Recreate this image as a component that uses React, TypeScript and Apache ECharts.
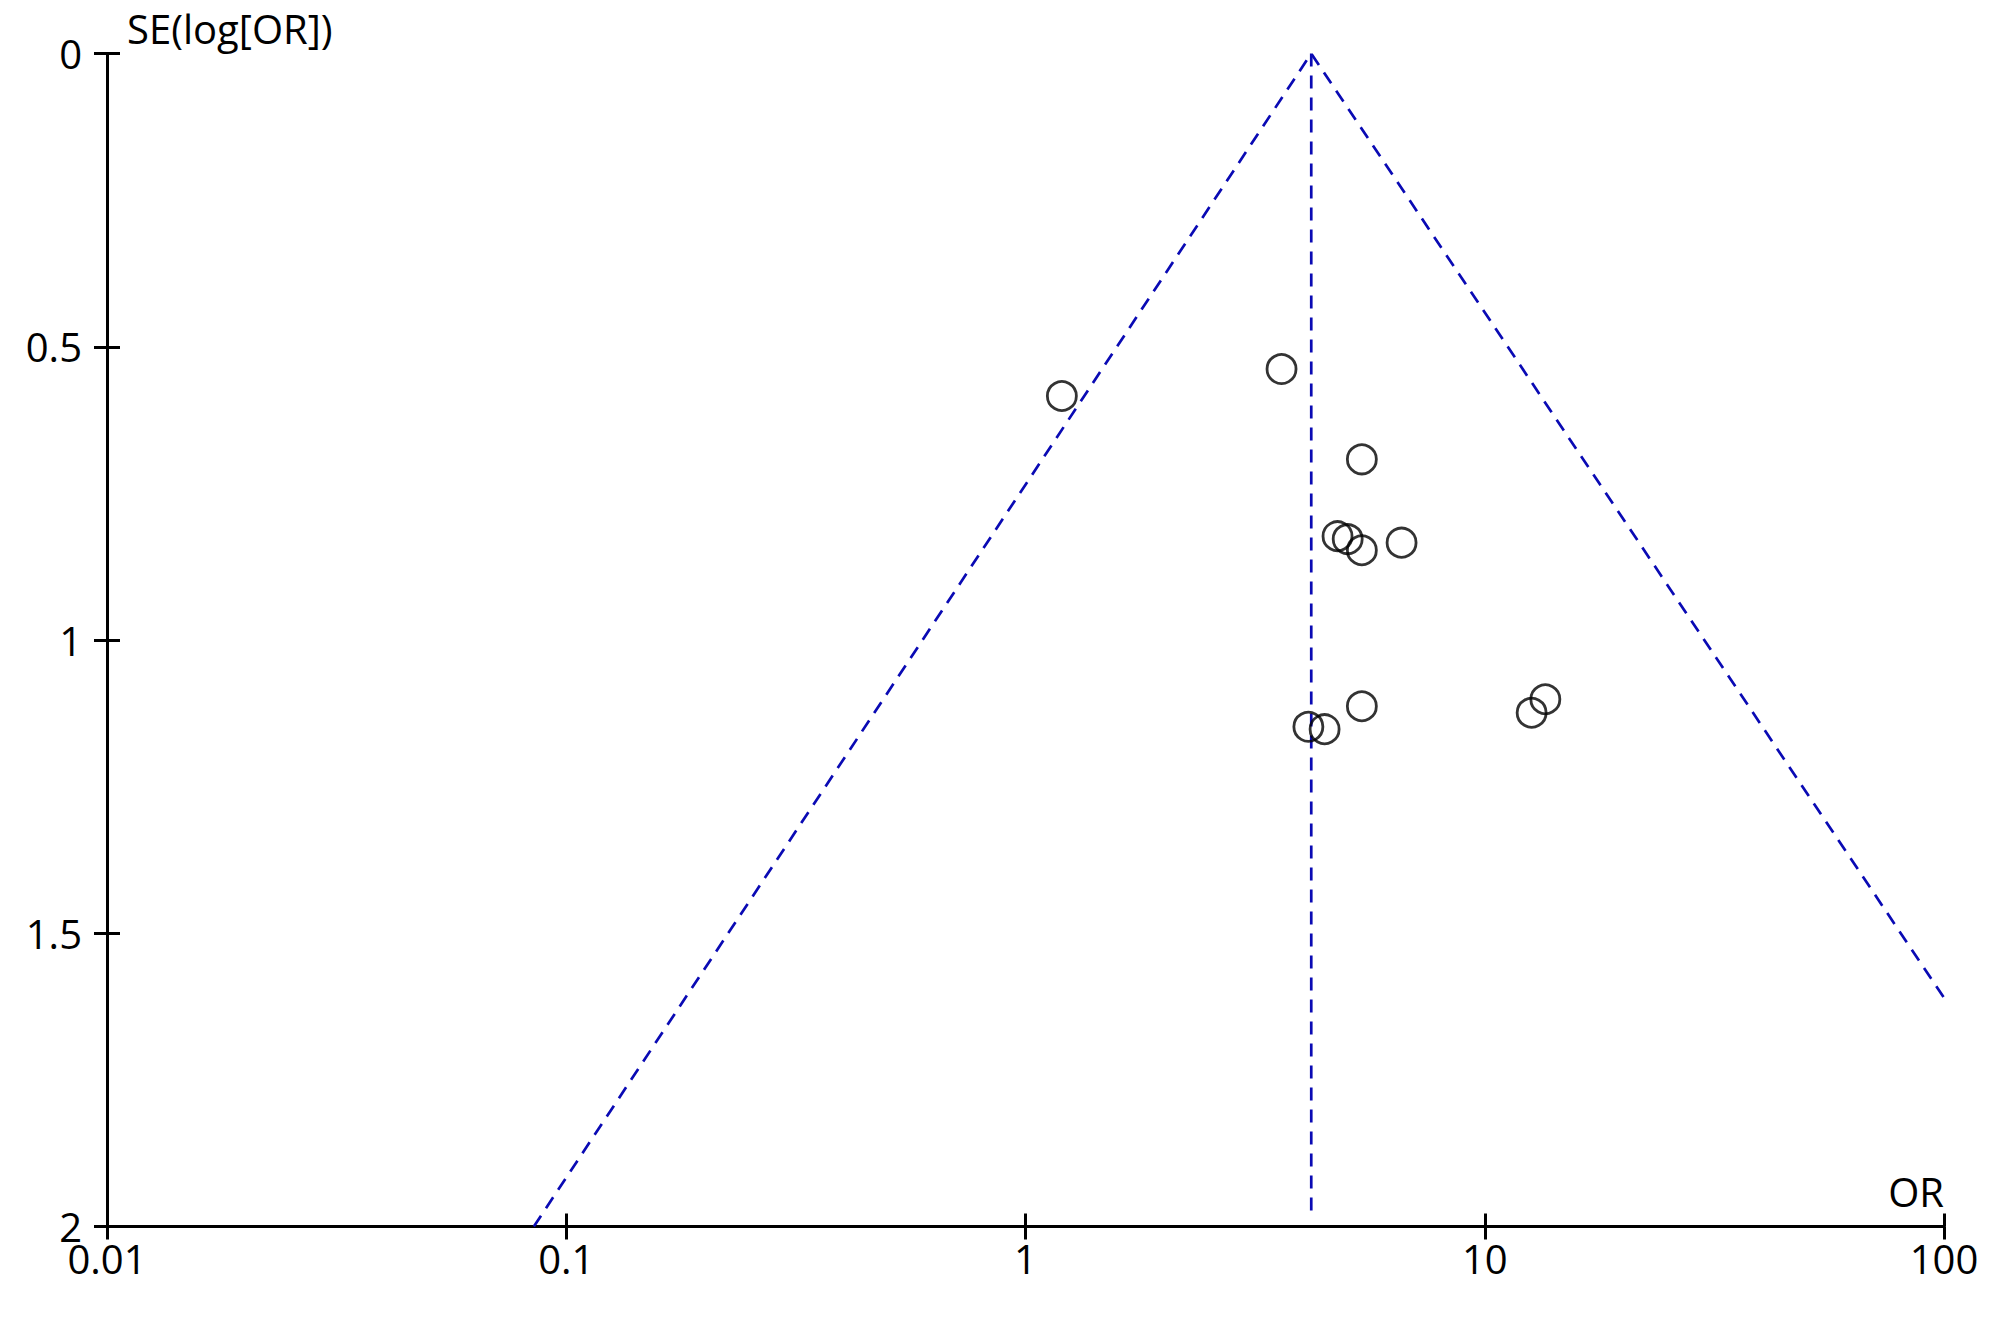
import React, { useEffect, useRef } from "react";
import * as echarts from "echarts";

// Study estimates: odds ratio and SE(log[OR])
const studyOR = [1.2, 3.61, 5.4, 4.78, 5.03, 5.4, 6.59, 5.4, 4.13, 4.48, 12.65, 13.55];
const studySE = [0.584, 0.538, 0.692, 0.823, 0.828, 0.847, 0.834, 1.113, 1.148, 1.152, 1.124, 1.101];

// Pooled estimate and funnel (pseudo 95% CI) line end points
const pooledOR = 4.19;
const funnelOR = [0.085, pooledOR, 100];
const funnelSE = [2, 0, 1.61];
const pooledLineSE = [0, 1.98];

const xTickLabels = ["0.01", "0.1", "1", "10", "100"];
const yTickLabels = ["0", "0.5", "1", "1.5", "2"];

const FONT = "'Open Sans', sans-serif";
const W = 1999;
const H = 1333;
const GRID = { left: 107, right: 55, top: 53.5, bottom: 106.5 };

export default function App() {
  const ref = useRef<HTMLDivElement>(null);
  useEffect(() => {
    document.body.style.margin = "0";
    const chart = echarts.init(ref.current!, null, { renderer: "svg" });
    const gridW = W - GRID.left - GRID.right;
    const gridH = H - GRID.top - GRID.bottom;
    const tick = { show: true, inside: false, length: 13, lineStyle: { color: "#000", width: 3 } };
    const axisCommonX = {
      type: "log",
      logBase: 10,
      min: 0.01,
      max: 100,
      interval: 1,
      gridIndex: 0,
      splitLine: { show: false },
    };
    const axisCommonY = {
      type: "value",
      min: 0,
      max: 2,
      interval: 0.5,
      inverse: true,
      gridIndex: 0,
      splitLine: { show: false },
    };
    chart.setOption({
      animation: false,
      backgroundColor: "#ffffff",
      grid: { ...GRID, containLabel: false, outerBoundsMode: "none" },
      xAxis: [
        {
          ...axisCommonX,
          position: "bottom",
          axisLine: { show: true, onZero: false, lineStyle: { color: "#000", width: 3 } },
          axisTick: tick,
          axisLabel: {
            show: true,
            margin: 12,
            color: "#000",
            fontSize: 40,
            lineHeight: 40,
            fontFamily: FONT,
            formatter: (_v: number, i: number) => xTickLabels[i] ?? "",
          },
        },
        {
          // mirrored axis moved onto the bottom line to draw the upward half of each tick
          ...axisCommonX,
          position: "top",
          offset: -gridH,
          axisLine: { show: false, onZero: false },
          axisTick: tick,
          axisLabel: { show: false },
        },
      ],
      yAxis: [
        {
          ...axisCommonY,
          position: "left",
          axisLine: { show: true, onZero: false, lineStyle: { color: "#000", width: 3 } },
          axisTick: tick,
          axisLabel: {
            show: true,
            margin: 25,
            color: "#000",
            fontSize: 40,
            lineHeight: 40,
            fontFamily: FONT,
            formatter: (_v: number, i: number) => yTickLabels[i] ?? "",
          },
        },
        {
          // mirrored axis moved onto the left line to draw the inner half of each tick
          ...axisCommonY,
          position: "right",
          offset: -gridW,
          axisLine: { show: false, onZero: false },
          axisTick: tick,
          axisLabel: { show: false },
        },
      ],
      graphic: [
        {
          type: "text",
          left: 127,
          top: 8,
          style: { text: "SE(log[OR])", fontSize: 40, fontFamily: FONT, fill: "#000" },
        },
        {
          type: "text",
          right: 55,
          top: 1171,
          style: { text: "OR", fontSize: 40, fontFamily: FONT, fill: "#000", textAlign: "right" },
        },
      ],
      series: [
        {
          type: "line",
          xAxisIndex: 0,
          yAxisIndex: 0,
          data: funnelOR.map((v, i) => [v, funnelSE[i]]),
          symbol: "none",
          lineStyle: { color: "#0a0ab4", width: 2.7, type: [13, 9] },
          silent: true,
          z: 1,
        },
        {
          type: "line",
          xAxisIndex: 0,
          yAxisIndex: 0,
          data: pooledLineSE.map((s) => [pooledOR, s]),
          symbol: "none",
          lineStyle: { color: "#0a0ab4", width: 2.7, type: [13, 9] },
          silent: true,
          z: 1,
        },
        {
          type: "scatter",
          xAxisIndex: 0,
          yAxisIndex: 0,
          data: studyOR.map((v, i) => [v, studySE[i]]),
          symbol: "circle",
          symbolSize: 29,
          itemStyle: { color: "rgba(0,0,0,0)", borderColor: "#000", borderWidth: 2.8 },
          z: 3,
        },
      ],
    });
    return () => chart.dispose();
  }, []);
  return <div ref={ref} style={{ position: "fixed", left: 0, top: 0, width: W, height: H }} />;
}
